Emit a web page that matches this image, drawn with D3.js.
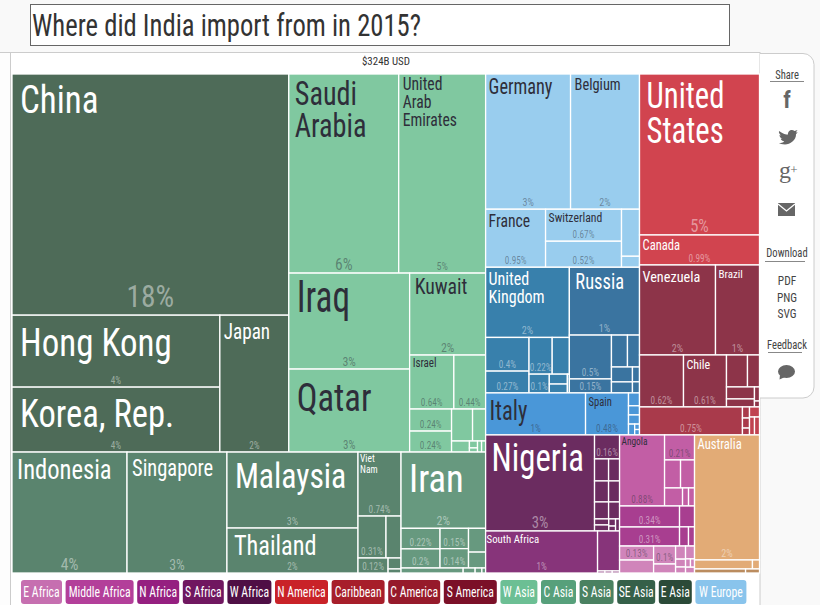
<!DOCTYPE html>
<html><head><meta charset="utf-8">
<script src="https://cdnjs.cloudflare.com/ajax/libs/d3/7.8.5/d3.min.js"></script>
<style>
html,body{margin:0;padding:0;background:#fff;overflow:hidden}
text{font-family:"Liberation Sans Narrow","Roboto Condensed","Liberation Sans",sans-serif}
</style></head><body>
<svg id="c" width="820" height="605"></svg>
<script>
const titleText = 'Where did India import from in 2015?';
const totalText = '$324B USD';
const shareLabels = ['Share','Download','Feedback'];
const downloadLabels = ['PDF','PNG','SVG'];

// Shares of total imports (%).
const eastAsiaNames = ['China','Hong Kong','Korea, Rep.','Japan'];
const eastAsiaShares = [17.90,4.01,3.62,2.53];
const eastAsiaPct = ['18%','4%','4%','2%'];
const eastAsiaPctSize = [32,10,10,10];
const eastAsiaShape = ['v',0,['h',['v',1,2],3]];

const westAsiaNames = ['Saudi\nArabia','United\nArab\nEmirates','Iraq','Qatar','Kuwait','Israel'];
const westAsiaShares = [5.87,4.64,3.11,2.69,1.67,.64,.46,.248,.236,.18,.112,.053,.015,.009,.012,.012];
const westAsiaPct = ['6%','5%','3%','3%','2%','0.64%','0.44%','0.24%','0.24%'];
const westAsiaPctSize = [17,11,13,12,13,10,10,10,10];
const westAsiaShape = ['v',['h',0,1],['h',['v',2,3],['v',4,['h',5,6],['h',['v',7,8],['v',['h',9,10],['h',11,['v',12,13],14,15]]]]]];

const seAsiaNames = ['Indonesia','Singapore','Malaysia','Thailand','Viet\nNam'];
const seAsiaShares = [3.73,3.24,2.67,1.58,.738,.315,.121,.169,.038,.014];
const seAsiaPct = ['4%','3%','3%','2%','0.74%','0.31%','0.12%'];
const seAsiaPctSize = [17,15,11,10,10,10,10];
const seAsiaShape = ['h',0,1,['v',2,3],['v',4,['h',5,7],['h',6,['v',8,9]]]];

const southAsiaNames = ['Iran'];
const southAsiaShares = [1.73,.215,.2,.155,.148,.109,.073,.083,.016,.009,.005];
const southAsiaPct = ['2%','0.22%','0.2%','0.15%','0.14%'];
const southAsiaPctSize = [13,10,10,10,10];
const southAsiaShape = ['v',0,['h',['v',1,2],['v',3,4],['v',5,6]],['h',7,8,9,10]];

const westEuropeNames = ['Germany','Belgium','France','Switzerland'];
const westEuropeShares = [3.08,2.50,.933,.652,.530,.227,.053];
const westEuropePct = ['3%','2%','0.95%','0.67%','0.52%'];
const westEuropePctSize = [11,11,10,10,10];
const westEuropeShape = ['v',['h',0,1],['h',2,['v',3,4],['v',5,6]]];

const northEuropeNames = ['United\nKingdom'];
const northEuropeShares = [1.576,.392,.254,.228,.102,.169,.048,.043,.010];
const northEuropePct = ['2%','0.4%','0.27%','0.22%','0.1%'];
const northEuropePctSize = [11,10,10,10,10];
const northEuropeShape = ['v',0,['h',['v',1,2],['v',['h',3,5],['h',4,['v',6,7],8]]]];

const eastEuropeNames = ['Russia'];
const eastEuropeShares = [1.276,.495,.158,.137,.103,.084,.062,.028,.021];
const eastEuropePct = ['1%','0.5%','0.15%'];
const eastEuropePctSize = [11,10,10];
const eastEuropeShape = ['v',0,['h',['v',1,2],['v',['h',3,4],['h',['v',5,6],['v',7,8]]]]];

const southEuropeNames = ['Italy','Spain'];
const southEuropeShares = [1.126,.484,.038,.027,.027,.018,.007,.007];
const southEuropePct = ['1%','0.48%'];
const southEuropePctSize = [10,10];
const southEuropeShape = ['h',0,1,['v',2,3,4,['h',5,['v',6,7]]]];

const northAmericaNames = ['United\nStates','Canada'];
const northAmericaShares = [5.18,.965];
const northAmericaPct = ['5%','0.99%'];
const northAmericaPctSize = [18,10];
const northAmericaShape = ['v',0,1];

const southAmericaNames = ['Venezuela','Brazil','','Chile'];
const southAmericaShares = [1.834,1.062,.613,.599,.18,.103,.09,.06,.019,.008];
const southAmericaPct = ['2%','1%','0.62%','0.61%'];
const southAmericaPctSize = [11,11,10,10];
const southAmericaShape = ['v',['h',0,1],['h',2,3,['v',['h',4,5],['h',['v',6,7],['v',8,9]]]]];

const centralAmericaNames = [''];
const centralAmericaShares = [.773,.021,.019,.013];
const centralAmericaPct = ['0.75%'];
const centralAmericaPctSize = [10];
const caribbeanShares = [.027,.024,.024];

const westAfricaNames = ['Nigeria'];
const westAfricaShares = [2.805,.161,.083,.065,.079,.062,.064,.05,.023,.023,.013,.009,.013];
const westAfricaPct = ['3%','0.16%'];
const westAfricaPctSize = [16,10];
const westAfricaShape = ['h',0,['v',1,['h',2,3],['h',4,5],['h',6,7],['h',['v',8,9],['h',['v',10,11],12]]]];

const southAfricaNames = ['South Africa'];
const southAfricaShares = [1.261,.236,.004,.004,.004];
const southAfricaPct = ['1%'];
const southAfricaPctSize = [10];
const southAfricaShape = ['h',0,['v',1,['h',2,3,4]]];

const middleAfricaNames = ['Angola'];
const middleAfricaShares = [.857,.201,.12,.105,.087,.029,.029];
const middleAfricaPct = ['0.88%','0.21%'];
const middleAfricaPctSize = [10,10];
const middleAfricaShape = ['h',0,['v',1,['h',2,3],['h',4,5,6]]];

const northAfricaShares = [.338,.306,.084,.046,.031];
const northAfricaPct = ['0.34%','0.31%'];
const northAfricaPctSize = [10,10];
const northAfricaShape = ['h',['v',0,1],['v',2,['h',3,4]]];

const eastAfricaShares = [.128,.118,.106,.053,.035,.021,.016,.031,.011,.009,.014];
const eastAfricaPct = ['0.13%','','0.1%'];
const eastAfricaPctSize = [10,10,10];
const eastAfricaShape = ['h',['v',0,1],['v',2,3],['v',4,5,6],['v',7,['h',8,9],10]];

const oceaniaNames = ['Australia'];
const oceaniaShares = [2.178,.14,.017];
const oceaniaPct = ['2%'];
const oceaniaPctSize = [11];
const oceaniaShape = ['v',0,['h',1,2]];
const oceaniaDarkShares = [.055,.015];

const legendNames = ['E Africa','Middle Africa','N Africa','S Africa','W Africa','N America','Caribbean','C America','S America','W Asia','C Asia','S Asia','SE Asia','E Asia','W Europe'];
const legendColors = ['#c66fb0','#b33f9a','#951f80','#701760','#4f0f45','#c92228','#a71e2a','#961a2b','#7b1028','#6cbf94','#57a07b','#4a8161','#356049','#2b4a38','#89c4ec'];
const legendWidths = [41,68,42,41,44,53,53,52,53,37,35,34,38,33,51];

// Styles (kept apart from the data)
const groupFill = {eastAsia:'#4e6b58',westAsia:'#80c8a0',seAsia:'#5a846e',southAsia:'#67997f',westEurope:'#99cdee',northEurope:'#3880ac',eastEurope:'#3a74a0',southEurope:'#4a97d8',northAmerica:'#d1444f',southAmerica:'#8d3449',centralAmerica:'#a93a4b',caribbean:'#c04250',westAfrica:'#6b2c60',southAfrica:'#87347a',middleAfrica:'#c25ea5',northAfrica:'#a83e90',eastAfrica:'#d084ba',oceania:'#e2ab76',oceaniaDark:'#bb8c5f'};
const darkText = new Set(['westAsia','westEurope','southEurope','middleAfrica','eastAfrica']);
// name: [font size, x offset, first baseline offset from top of cell, line height, horizontal squeeze]
const labelStyle = {
 'China':[38,8,39,0,.92],'Hong Kong':[38,8,41,0,.92],'Korea, Rep.':[38,8,40,0,.91],'Japan':[22,4,24,0,.87],
 'Indonesia':[27,5,27,0,.91],'Singapore':[23,5,24,0,.89],'Malaysia':[36,8,36,0,.88],'Thailand':[27,7,27,0,.9],'Viet\nNam':[10,2,10,11,.95],
 'Iran':[38,8,40,0,.96],'Saudi\nArabia':[34,6,31,32,.83],'United\nArab\nEmirates':[18,4,16,18,.87],'Iraq':[44,8,39,0,.8],'Qatar':[38,8,42,0,.91],'Kuwait':[22,5,21,0,.9],'Israel':[12,3,12,0,.92],
 'Germany':[22,3,20,0,.83],'Belgium':[16,4,16,0,.9],'France':[18,3,18,0,.87],'Switzerland':[13,3,13,0,.9],'United\nKingdom':[18,3,18,18,.89],'Russia':[22,6,22,0,.84],'Italy':[27,4,27,0,.84],'Spain':[12,3,13,0,.88],
 'United\nStates':[37,7,34,35,.83],'Canada':[14,3,15,0,.9],'Venezuela':[15,3,17,0,.95],'Brazil':[11,3,13,0,1],'Chile':[12,3,14,0,1],
 'Nigeria':[38,6,36,0,.86],'South Africa':[11,1,12,0,.98],'Angola':[11,2,10,0,.85],'Australia':[14,3,14,0,.9]};

function group(key,names,shares,pcts,sizes,shape){
  const conv=s=>Array.isArray(s)
    ? {dir:s[0],children:s.slice(1).map(conv)}
    : {group:key,name:names[s]||'',value:shares[s],pct:pcts[s]||'',pctSize:sizes[s]||10};
  return conv(shape);
}
const G={
 eastAsia:group('eastAsia',eastAsiaNames,eastAsiaShares,eastAsiaPct,eastAsiaPctSize,eastAsiaShape),
 westAsia:group('westAsia',westAsiaNames,westAsiaShares,westAsiaPct,westAsiaPctSize,westAsiaShape),
 seAsia:group('seAsia',seAsiaNames,seAsiaShares,seAsiaPct,seAsiaPctSize,seAsiaShape),
 southAsia:group('southAsia',southAsiaNames,southAsiaShares,southAsiaPct,southAsiaPctSize,southAsiaShape),
 westEurope:group('westEurope',westEuropeNames,westEuropeShares,westEuropePct,westEuropePctSize,westEuropeShape),
 northEurope:group('northEurope',northEuropeNames,northEuropeShares,northEuropePct,northEuropePctSize,northEuropeShape),
 eastEurope:group('eastEurope',eastEuropeNames,eastEuropeShares,eastEuropePct,eastEuropePctSize,eastEuropeShape),
 southEurope:group('southEurope',southEuropeNames,southEuropeShares,southEuropePct,southEuropePctSize,southEuropeShape),
 northAmerica:group('northAmerica',northAmericaNames,northAmericaShares,northAmericaPct,northAmericaPctSize,northAmericaShape),
 southAmerica:group('southAmerica',southAmericaNames,southAmericaShares,southAmericaPct,southAmericaPctSize,southAmericaShape),
 centralAmerica:group('centralAmerica',centralAmericaNames,centralAmericaShares,centralAmericaPct,centralAmericaPctSize,['h',0,['v',1,2,3]]),
 caribbean:group('caribbean',[],caribbeanShares,[],[],['v',0,['h',1,2]]),
 westAfrica:group('westAfrica',westAfricaNames,westAfricaShares,westAfricaPct,westAfricaPctSize,westAfricaShape),
 southAfrica:group('southAfrica',southAfricaNames,southAfricaShares,southAfricaPct,southAfricaPctSize,southAfricaShape),
 middleAfrica:group('middleAfrica',middleAfricaNames,middleAfricaShares,middleAfricaPct,middleAfricaPctSize,middleAfricaShape),
 northAfrica:group('northAfrica',[],northAfricaShares,northAfricaPct,northAfricaPctSize,northAfricaShape),
 eastAfrica:group('eastAfrica',[],eastAfricaShares,eastAfricaPct,eastAfricaPctSize,eastAfricaShape),
 oceania:group('oceania',oceaniaNames,oceaniaShares,oceaniaPct,oceaniaPctSize,oceaniaShape),
 oceaniaDark:group('oceaniaDark',[],oceaniaDarkShares,[],[],['h',0,1])
};
const n=(dir,...children)=>({dir,children});
const root=n('h',
  n('v',n('h',G.eastAsia,G.westAsia),n('h',G.seAsia,G.southAsia)),
  n('v',
    n('h',
      n('v',G.westEurope,n('h',G.northEurope,G.eastEurope),G.southEurope),
      n('v',G.northAmerica,G.southAmerica,n('h',G.centralAmerica,G.caribbean))),
    n('h',
      n('v',G.westAfrica,G.southAfrica),
      n('v',G.middleAfrica,G.northAfrica,G.eastAfrica),
      n('v',G.oceania,G.oceaniaDark))));

const svg=d3.select('#c');
const at=(x,y,sx)=>`translate(${x},${y}) scale(${sx},1)`;
// page frame
svg.append('rect').attr('width',820).attr('height',605).attr('fill','#f9f9f9');
svg.append('rect').attr('x',0).attr('y',52).attr('width',10).attr('height',553).attr('fill','#fdfdfd');
svg.append('rect').attr('x',10.5).attr('y',52.5).attr('width',749.5).attr('height',560).attr('fill','#fff').attr('stroke','#ccc');
svg.append('line').attr('x1',0).attr('x2',760).attr('y1',52.5).attr('y2',52.5).attr('stroke','#ccc');
svg.append('rect').attr('x',30.5).attr('y',4.5).attr('width',699).attr('height',41).attr('fill','#fff').attr('stroke','#666');
svg.append('text').attr('transform',at(32,36,.86)).attr('font-size',31).attr('fill','#333').text(titleText);
svg.append('text').attr('transform',at(386,65,.95)).attr('text-anchor','middle').attr('font-size',11.5).attr('fill','#333').text(totalText);

// treemap
const hier=d3.hierarchy(root).sum(d=>d.value||0);
const tile=(node,x0,y0,x1,y1)=>(node.data.dir==='h'?d3.treemapDice:d3.treemapSlice)(node,x0,y0,x1,y1);
d3.treemap().tile(tile).size([747.5,499])(hier);
const chart=svg.append('g').attr('transform','translate(12,74)');
const cell=chart.selectAll('g').data(hier.leaves()).join('g').attr('transform',d=>`translate(${d.x0},${d.y0})`);
cell.append('rect').attr('width',d=>d.x1-d.x0).attr('height',d=>d.y1-d.y0)
  .attr('fill',d=>groupFill[d.data.group]).attr('stroke','#fff').attr('stroke-width',1.3);
const txtCol=d=>darkText.has(d.data.group)?'#2e2e3a':'#fff';
cell.filter(d=>d.data.name).each(function(d){
  const st=labelStyle[d.data.name];
  const t=d3.select(this).append('text').attr('font-size',st[0]).attr('fill',txtCol(d))
    .attr('transform',at(st[1],st[2],st[4]));
  d.data.name.split('\n').forEach((line,i)=>{
    t.append('tspan').attr('x',0).attr('y',i*st[3]).text(line);
  });
});
cell.filter(d=>d.data.pct).append('text').attr('text-anchor','middle')
  .attr('transform',d=>at((d.x1-d.x0)/2,d.y1-d.y0-(d.data.pctSize>25?8:3),.92)).attr('font-size',d=>d.data.pctSize)
  .attr('fill',txtCol).attr('fill-opacity',.45).text(d=>d.data.pct);

// side panel
const panel=svg.append('g');
panel.append('path').attr('d','M760,53.5H803a11,11 0 0 1 11,11V387a11,11 0 0 1 -11,11H760').attr('fill','#fff').attr('stroke','#ccc');
const pc=787;
const ptext=(y,s,size=12)=>panel.append('text').attr('transform',at(pc,y,.88)).attr('text-anchor','middle').attr('font-size',size).attr('fill','#444').text(s);
[[79,770,804,81.5],[257,765,805,261.5],[349,768,802,352.5]].forEach((r,i)=>{
  ptext(r[0],shareLabels[i]);
  panel.append('line').attr('x1',r[1]).attr('x2',r[2]).attr('y1',r[3]).attr('y2',r[3]).attr('stroke','#888');
});
downloadLabels.forEach((s,i)=>ptext(285+i*16.7,s,13));
const ic='#666';
panel.append('text').attr('x',pc).attr('y',108).attr('text-anchor','middle').attr('font-size',23).attr('font-weight','bold').attr('fill',ic).text('f');
panel.append('path').attr('fill',ic).attr('d','M779,131 C783,134 786,134.5 788,134.5 C787.5,130.5 792,128.5 794.5,131 L797.5,130 L795.8,132.6 L797.7,132.2 L796,134.2 C796.4,140 790,144.5 785,144.5 C782,144.5 780,143.6 779,143 C781,143 783,142.5 784.3,141.4 C782.5,141.3 781.2,140.2 780.7,138.8 L782.5,138.7 C780.5,138.2 779.5,136.6 779.5,135 L781.2,135.5 C779.3,134.2 778.6,132.6 779,131Z');
panel.append('text').attr('x',785).attr('y',178).attr('text-anchor','middle').attr('font-size',24).style('font-family','Liberation Serif').attr('fill',ic).text('g');
panel.append('text').attr('x',794).attr('y',174).attr('text-anchor','middle').attr('font-size',13).style('font-family','Liberation Serif').attr('fill',ic).text('+');
panel.append('rect').attr('x',778).attr('y',203).attr('width',17).attr('height',13).attr('fill',ic);
panel.append('path').attr('d','M778,204 L786.5,211 L795,204').attr('fill','none').attr('stroke','#fff').attr('stroke-width',1.3);
panel.append('ellipse').attr('cx',786.5).attr('cy',371.5).attr('rx',8.5).attr('ry',6.5).attr('fill',ic);
panel.append('path').attr('d','M780,375 L779.5,379.5 L785,377Z').attr('fill',ic);

// legend
const starts=d3.cumsum([0,...legendWidths.slice(0,-1)]).map((v,i)=>21+v+i*3.6);
const lg=svg.append('g').selectAll('g').data(legendNames).join('g')
  .attr('transform',(d,i)=>`translate(${starts[i]},580)`);
lg.append('rect').attr('width',(d,i)=>legendWidths[i]).attr('height',24).attr('rx',3).attr('fill',(d,i)=>legendColors[i]);
lg.append('text').attr('transform',(d,i)=>at(legendWidths[i]/2,17,.84)).attr('text-anchor','middle').attr('font-size',14).attr('fill','#fff').text(d=>d);
</script></body></html>
